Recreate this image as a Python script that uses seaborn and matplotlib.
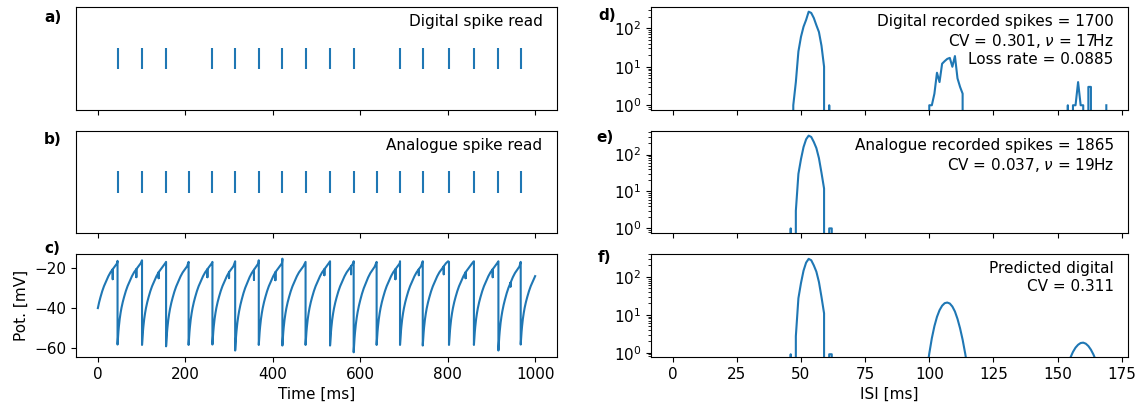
import numpy as np
import matplotlib
matplotlib.use("Agg")
import matplotlib.pyplot as plt
import seaborn as sns

plt.rcParams["font.size"] = 11
plt.rcParams["font.family"] = ["DejaVu Sans"]

BLUE = "#1f77b4"

# ---- spike rasters (ms) ----
analogue_spikes = [45, 101, 156, 207.5, 262, 314, 368, 422, 475, 531, 585,
                   637.5, 691, 743, 803, 860, 916, 967]
digital_spikes = [45, 101, 156, 262, 314, 368, 422, 475, 531, 585,
                  691, 743, 803, 860, 916, 967]

# ---- membrane potential (mV) ----
reset_min = [-58.3, -58.5, -59.2, -58.5, -58.3, -61.3, -58.5, -58.8, -58.5,
             -58.8, -62.2, -58.5, -58.5, -58.8, -58.5, -58.5, -61.3, -58.3]
peak_before_spike = [-16.3, -16.0, -16.8, -16.8, -16.8, -16.5, -16.0, -15.2,
                     -16.8, -16.5, -16.5, -16.8, -16.5, -16.5, -16.8, -16.5,
                     -16.5, -16.8]
recovery_offset = [0, 1, 2, 3, 5, 7, 9, 12, 15, 19, 23, 28, 33, 38, 43, 48, 53, 58]
recovery_volt = [-58.5, -55, -52, -49.5, -45.5, -42.5, -40, -37, -34.5, -31.5,
                 -29, -26.5, -24, -22, -20.5, -19, -17.5, -16.5]
first_cycle_start = -9
trace_end = 1000
glitch_cycle = [0, 1, 2, 4, 5, 6, 7, 9, 10, 12, 13, 14, 15, 16, 17]
glitch_offset = [43, 43, 38, 43, 38, 43, 38, 43, 48, 43, 43, 48, 38, 43, 28]
glitch_depth = [5, 4, 3, 4, 3, 5, 4, 3, 4, 5, 3, 4, 3, 4, 2]

# ---- ISI histograms (1 ms bins, counts) ----
isi_bins = np.arange(0, 170)
digital_isi_bins = [47, 48, 49, 50, 51, 52, 53, 54, 55, 56, 57, 58, 59, 61,
                    100, 101, 102, 103, 104, 105, 106, 107, 108, 109, 110, 111, 112, 113,
                    154, 156, 157, 158, 159, 160, 162, 163, 169]
digital_isi_counts = [1, 4, 25, 60, 110, 165, 270, 250, 185, 120, 80, 35, 10, 1,
                      1, 1, 2, 7, 4, 12, 14, 16, 17, 10, 19, 5, 3, 2,
                      1, 1, 1, 4, 1, 1, 3, 3, 1]
analogue_isi_bins = [46, 48, 49, 50, 51, 52, 53, 54, 55, 56, 57, 58, 59, 61, 62]
analogue_isi_counts = [1, 3, 30, 75, 160, 260, 327, 300, 220, 150, 80, 32, 12, 1, 1]
predicted_isi_bins = [46, 48, 49, 50, 51, 52, 53, 54, 55, 56, 57, 58, 59, 61, 62,
                      99, 100, 101, 102, 103, 104, 105, 106, 107, 108, 109, 110,
                      111, 112, 113, 114, 115,
                      154, 155, 156, 157, 158, 159, 160, 161, 162, 163, 164, 165, 166]
predicted_isi_values = [0.91, 2.73, 27.3, 68.4, 145.8, 237.0, 298.0, 273.5, 200.5,
                        136.7, 72.9, 29.2, 10.9, 0.91, 0.91,
                        0.32, 0.95, 2.4, 5.0, 8.8, 13.2, 17.3, 20.2, 21.0, 19.8,
                        16.5, 12.2, 7.8, 4.4, 2.2, 0.95, 0.38,
                        0.49, 0.74, 1.05, 1.36, 1.62, 1.80, 1.84, 1.73, 1.50,
                        1.20, 0.89, 0.61, 0.38]

panel_texts = {
    "a": "Digital spike read",
    "b": "Analogue spike read",
    "d": "Digital recorded spikes = 1700\nCV = 0.301, $\\nu$ = 17Hz\nLoss rate = 0.0885",
    "e": "Analogue recorded spikes = 1865\nCV = 0.037, $\\nu$ = 19Hz",
    "f": "Predicted digital\nCV = 0.311",
}


def full_hist(bins, values):
    out = np.zeros(len(isi_bins), dtype=float)
    out[np.asarray(bins)] = values
    return out


def build_trace():
    offs = np.asarray(recovery_offset, dtype=float)
    prof = np.asarray(recovery_volt, dtype=float)
    glitches = {(c, o): d for c, o, d in zip(glitch_cycle, glitch_offset, glitch_depth)}
    starts = [first_cycle_start] + list(analogue_spikes)
    mins = [prof[0]] + list(reset_min)
    t, v = [], []
    for k, (t0, vmin) in enumerate(zip(starts, mins)):
        last = k == len(starts) - 1
        t1 = trace_end if last else analogue_spikes[k]
        shape = prof + (vmin - prof[0]) * (prof[-1] - prof) / (prof[-1] - prof[0])
        for o, val in zip(offs, shape):
            tt = t0 + o
            if tt < 0 or tt > t1 or (tt == t1 and not last):
                continue
            t.append(tt)
            v.append(val)
            if (k, int(o)) in glitches:
                t += [tt, tt]
                v += [val - glitches[(k, int(o))], val]
        if not last:
            t.append(t1)
            v.append(peak_before_spike[k])
    return np.array(t), np.array(v)


W, H = 1145, 407
fig = plt.figure(figsize=(W / 100, H / 100), dpi=100)


def px_axes(x0, x1, top, bottom, **kw):
    return fig.add_axes([x0 / W, 1 - bottom / H, (x1 - x0) / W, (bottom - top) / H], **kw)


rows = [(7, 110), (131, 233), (254, 357)]
ax_a = px_axes(76, 557, *rows[0])
ax_b = px_axes(76, 557, *rows[1], sharex=ax_a)
ax_c = px_axes(76, 557, *rows[2], sharex=ax_a)
ax_d = px_axes(651, 1128, *rows[0])
ax_e = px_axes(651, 1128, *rows[1], sharex=ax_d)
ax_f = px_axes(651, 1128, *rows[2], sharex=ax_d)

# rasters
for ax, spikes, key in [(ax_a, digital_spikes, "a"), (ax_b, analogue_spikes, "b")]:
    ax.eventplot(spikes, colors=BLUE, lineoffsets=1, linelengths=1, linewidths=1.5)
    ax.set_ylim(-1.4, 3.4)
    ax.set_yticks([])
    ax.tick_params(labelbottom=False)
    ax.text(0.97, 0.93, panel_texts[key], transform=ax.transAxes, ha="right", va="top")

# membrane potential
t_mem, v_mem = build_trace()
sns.lineplot(x=t_mem, y=v_mem, ax=ax_c, sort=False, estimator=None, color=BLUE, linewidth=1.5)
ax_c.set_yticks([-60, -40, -20])
ax_c.set_xticks([0, 200, 400, 600, 800, 1000])
ax_c.set_xlabel("Time [ms]")
ax_c.set_ylabel("Pot. [mV]")

# ISI distributions
hists = [
    (ax_d, full_hist(digital_isi_bins, digital_isi_counts), "d", (0.753, 357)),
    (ax_e, full_hist(analogue_isi_bins, analogue_isi_counts), "e", (0.75, 436)),
    (ax_f, full_hist(predicted_isi_bins, predicted_isi_values), "f", (0.77, 400)),
]
for ax, counts, key, ylim in hists:
    sns.lineplot(x=isi_bins, y=counts, ax=ax, estimator=None, color=BLUE, linewidth=1.5)
    ax.set_yscale("log")
    ax.set_ylim(*ylim)
    ax.set_ylabel("")
    ax.set_xlabel("")
    ax.text(0.97, 0.93, panel_texts[key], transform=ax.transAxes, ha="right", va="top")
ax_d.set_xticks(np.arange(0, 176, 25))
ax_d.tick_params(labelbottom=False)
ax_e.tick_params(labelbottom=False)
ax_f.set_xlabel("ISI [ms]")

# panel letters
for lbl, (x, y) in {"a)": (53, 17), "b)": (53, 139), "c)": (52, 248),
                    "d)": (607, 16), "e)": (605, 138), "f)": (605, 258)}.items():
    fig.text(x / W, 1 - y / H, lbl, fontweight="bold", ha="center", va="center")

fig.savefig("out.png", dpi=100)
